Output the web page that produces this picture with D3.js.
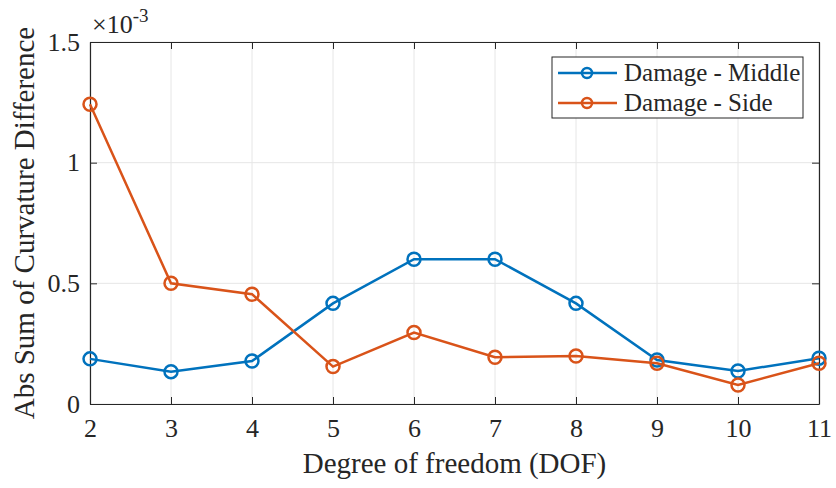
<!DOCTYPE html>
<html>
<head>
<meta charset="utf-8">
<script src="https://cdn.jsdelivr.net/npm/d3@7"></script>
<style>
  body { margin: 0; background: #fff; }
  svg text { font-family: "Liberation Serif", "Times New Roman", serif; fill: #262626; }
</style>
</head>
<body>
<div id="chart"></div>
<script>
const dof = [2, 3, 4, 5, 6, 7, 8, 9, 10, 11]
const middle = [0.187, 0.134, 0.178, 0.417, 0.600, 0.600, 0.417, 0.182, 0.137, 0.190]
const side = [1.242, 0.500, 0.455, 0.155, 0.296, 0.194, 0.199, 0.169, 0.079, 0.169]
const yTicks = [0, 0.5, 1, 1.5]
const seriesNames = ["Damage - Middle", "Damage - Side"]
const colors = ["#0072BD", "#D95319"]

const width = 836, height = 488
const margin = {top: 42, right: 17, bottom: 84, left: 90}
const serif = "'Liberation Serif', 'Times New Roman', serif"

const svg = d3.select("#chart").append("svg")
    .attr("width", width)
    .attr("height", height)
    .attr("font-family", serif)

const x = d3.scaleLinear().domain([2, 11]).range([margin.left, width - margin.right])
const y = d3.scaleLinear().domain([0, 1.5]).range([height - margin.bottom, margin.top])

// grid
svg.append("g")
    .selectAll("line")
    .data(dof)
    .join("line")
      .attr("x1", d => x(d)).attr("x2", d => x(d))
      .attr("y1", y(0)).attr("y2", y(1.5))
      .attr("stroke", "#e6e6e6").attr("stroke-width", 1)
svg.append("g")
    .selectAll("line")
    .data(yTicks)
    .join("line")
      .attr("x1", x(2)).attr("x2", x(11))
      .attr("y1", d => y(d)).attr("y2", d => y(d))
      .attr("stroke", "#e6e6e6").attr("stroke-width", 1)

// axes
const axBottom = svg.append("g")
    .attr("transform", `translate(0, ${y(0)})`)
    .call(d3.axisBottom(x).tickValues(dof).tickFormat(d3.format("d")).tickSizeInner(-7).tickSizeOuter(0).tickPadding(15))
const axTop = svg.append("g")
    .attr("transform", `translate(0, ${y(1.5)})`)
    .call(d3.axisTop(x).tickValues(dof).tickFormat("").tickSizeInner(-7).tickSizeOuter(0))
const axLeft = svg.append("g")
    .attr("transform", `translate(${x(2)}, 0)`)
    .call(d3.axisLeft(y).tickValues(yTicks).tickFormat(d => d === 0 ? "0" : d3.format("")(d)).tickSizeInner(-7).tickSizeOuter(0).tickPadding(10))
const axRight = svg.append("g")
    .attr("transform", `translate(${x(11)}, 0)`)
    .call(d3.axisRight(y).tickValues(yTicks).tickFormat("").tickSizeInner(-7).tickSizeOuter(0))

;[axBottom, axTop, axLeft, axRight].forEach(g => {
  g.attr("font-family", serif).attr("font-size", 26)
  g.select(".domain").attr("stroke", "#262626").attr("stroke-width", 1.2)
  g.selectAll(".tick line").attr("stroke", "#262626")
  g.selectAll(".tick text").style("font-family", serif).style("font-size", "26px").attr("fill", "#262626")
})

// exponent
const expo = svg.append("text")
    .attr("x", 92).attr("y", 33)
    .style("font-size", "26px")
expo.append("tspan").text("\u00d710")
expo.append("tspan").attr("dy", -11).style("font-size", "19px").text("-3")

// axis labels
svg.append("text")
    .attr("x", (x(2) + x(11)) / 2).attr("y", 473)
    .attr("text-anchor", "middle")
    .style("font-size", "29px")
    .text("Degree of freedom (DOF)")
svg.append("text")
    .attr("transform", `translate(34, ${(y(0) + y(1.5)) / 2}) rotate(-90)`)
    .attr("text-anchor", "middle")
    .style("font-size", "29px")
    .text("Abs Sum of Curvature Difference")

// series
const series = [middle, side]
const line = d3.line().x((d, i) => x(dof[i])).y(d => y(d))
series.forEach((vals, s) => {
  svg.append("path")
      .datum(vals)
      .attr("d", line)
      .attr("fill", "none")
      .attr("stroke", colors[s])
      .attr("stroke-width", 2.5)
  svg.append("g")
      .selectAll("circle")
      .data(vals)
      .join("circle")
        .attr("cx", (d, i) => x(dof[i]))
        .attr("cy", d => y(d))
        .attr("r", 6.5)
        .attr("fill", "none")
        .attr("stroke", colors[s])
        .attr("stroke-width", 2.5)
})

// legend
const lg = svg.append("g").attr("transform", "translate(552, 57)")
lg.append("rect")
    .attr("width", 251).attr("height", 61)
    .attr("fill", "#fff").attr("stroke", "#262626").attr("stroke-width", 1)
seriesNames.forEach((name, i) => {
  const cy = 16 + i * 30
  lg.append("line")
      .attr("x1", 6).attr("x2", 65).attr("y1", cy).attr("y2", cy)
      .attr("stroke", colors[i]).attr("stroke-width", 2.5)
  lg.append("circle")
      .attr("cx", 35).attr("cy", cy).attr("r", 5)
      .attr("fill", "none").attr("stroke", colors[i]).attr("stroke-width", 2.5)
  lg.append("text")
      .attr("x", 72).attr("y", cy + 8)
      .style("font-size", "25px")
      .text(name)
})
</script>
</body>
</html>
